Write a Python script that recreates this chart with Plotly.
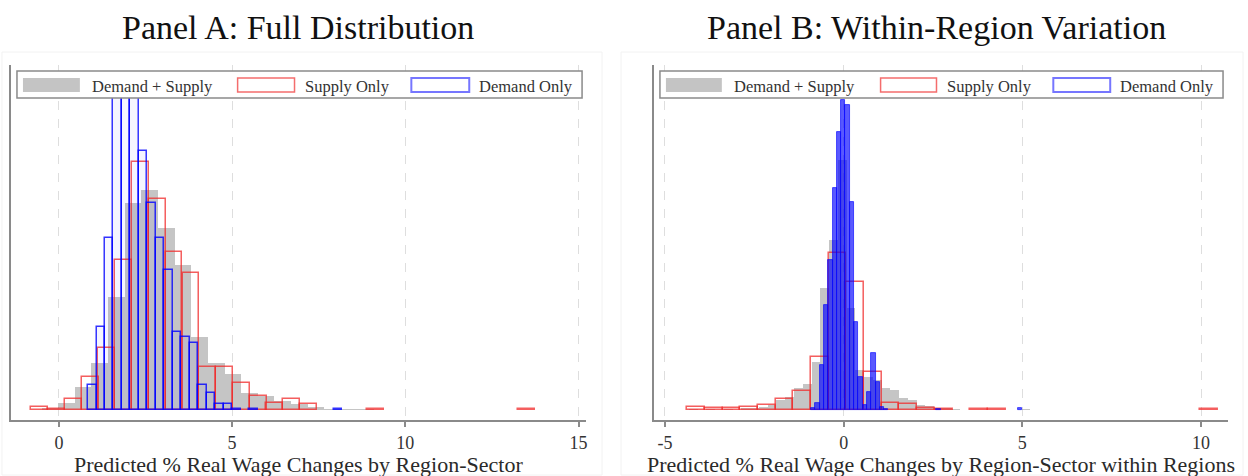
import numpy as np
import plotly.graph_objects as go

# ---------------- data (heights in plot units) ----------------
# Panel A: Full Distribution
A_gray_w = 0.48
A_gray_left = [-0.50, -0.02, 0.46, 0.94, 1.42, 1.90, 2.38, 2.86, 3.34, 3.82, 4.30, 4.78,
               5.26, 5.74, 6.22, 6.70, 7.18, 7.66, 8.14, 8.62]
A_gray_h = [2, 7, 23, 47, 113, 207, 220, 182, 145, 73, 47, 36, 17, 14, 9, 6, 3, 1.5, 1, 1]

A_red_w = 0.485
A_red_left = [-0.80, -0.31, 0.17, 0.66, 1.14, 1.63, 2.11, 2.60, 3.08, 3.57, 4.05, 4.54,
              5.02, 5.51, 5.99, 6.48, 6.96, 8.90, 13.26]
A_red_h = [3, 1, 11, 33, 62, 150, 248, 211, 158, 137, 43, 43, 27, 14, 7, 11, 6, 1, 1]

A_blue_w = 0.245
A_blue_left = [0.84, 1.085, 1.33, 1.575, 1.82, 2.065, 2.31, 2.555, 2.80, 3.045, 3.29, 3.535,
               3.78, 4.025, 4.27, 4.515, 4.76, 5.005, 5.495, 7.94]
A_blue_h = [25, 83, 172, 335, 336, 335, 259, 207, 172, 140, 78, 73, 67, 25, 17, 6, 6, 1.5, 1.5, 1]

# Panel B: Within-Region Variation
B_gray_w = 0.245
B_gray_left = [-4.33, -3.84, -3.35, -2.86, -2.615, -2.37, -2.125, -1.88, -1.635, -1.39, -1.145,
               -0.90, -0.655, -0.41, -0.165, 0.08, 0.325, 0.57, 0.815, 1.06, 1.305, 1.55, 1.795,
               2.04, 2.285, 2.53, 2.775, 3.02, 4.98]
B_gray_h = [1, 1, 1, 2, 2, 3, 5, 10, 13, 22, 26, 48, 122, 170, 250, 102, 40, 33, 30, 22, 20,
            12, 10, 5, 4, 2, 2, 1, 1]

B_red_w = 0.495
B_red_left = [-4.38, -3.885, -3.39, -2.895, -2.40, -1.905, -1.41, -0.915, -0.42, 0.075, 0.57,
              1.065, 1.56, 2.055, 2.55, 3.54, 4.035, 9.975]
B_red_h = [3, 2, 2, 3, 5, 11, 19, 53, 157, 128, 38, 7, 6, 2, 1, 1.5, 1.5, 1.5]

B_blue_w = 0.12
B_blue_left = [-0.91, -0.79, -0.67, -0.55, -0.43, -0.31, -0.19, -0.07, 0.05, 0.17, 0.29, 0.41,
               0.53, 0.65, 0.77, 0.89, 1.01, 1.13, 2.59, 4.87]
B_blue_h = [2, 7, 45, 105, 150, 222, 278, 310, 305, 208, 88, 33, 5, 18, 57, 28, 3, 1, 1, 2]

A_ticks = [0, 5, 10, 15]
B_ticks = [-5, 0, 5, 10]

titles = ["Panel A: Full Distribution", "Panel B: Within-Region Variation"]
xtitles = ["Predicted % Real Wage Changes by Region-Sector",
           "Predicted % Real Wage Changes by Region-Sector within Regions"]
legend_labels = ["Demand + Supply", "Supply Only", "Demand Only"]

# ---------------- styling ----------------
W, H = 1248, 476
SERIF = "Liberation Serif"
GRAY_FILL = "rgba(150,150,150,0.55)"
RED_LINE = "rgba(240,40,40,0.75)"
BLUE_LINE = "rgba(0,0,255,0.8)"


def px(x):
    return x / W


def py(y):
    return 1 - y / H


def centers(left, w):
    return np.asarray(left) + w / 2.0


fig = go.Figure()


def add_hist(left, w, h, xa, ya, fill, line, lw):
    fig.add_trace(go.Bar(x=centers(left, w), y=h, width=[w] * len(h),
                         marker=dict(color=fill, line=dict(color=line, width=lw)),
                         xaxis=xa, yaxis=ya, showlegend=False, hoverinfo="skip"))


add_hist(A_gray_left, A_gray_w, A_gray_h, "x", "y", GRAY_FILL, "rgba(0,0,0,0)", 0)
add_hist(A_red_left, A_red_w, A_red_h, "x", "y", "rgba(0,0,0,0)", RED_LINE, 1.5)
add_hist(A_blue_left, A_blue_w, A_blue_h, "x", "y", "rgba(0,0,255,0.04)", BLUE_LINE, 1.5)

add_hist(B_gray_left, B_gray_w, B_gray_h, "x2", "y2", GRAY_FILL, "rgba(0,0,0,0)", 0)
add_hist(B_red_left, B_red_w, B_red_h, "x2", "y2", "rgba(0,0,0,0)", RED_LINE, 1.5)
add_hist(B_blue_left, B_blue_w, B_blue_h, "x2", "y2", "rgba(0,0,255,0.65)", BLUE_LINE, 0.8)

ydom = [py(420), py(65)]
yrange = [-10, 345]

common_x = dict(showgrid=True, gridcolor="#dedede", griddash="dash", gridwidth=1,
                showline=True, linecolor="#8a8a8a", linewidth=2, ticks="outside",
                ticklen=5, tickcolor="#8a8a8a", tickwidth=1.5, zeroline=False,
                tickfont=dict(family=SERIF, size=18, color="#333333"),
                ticklabelstandoff=0, tickmode="array")
common_y = dict(range=yrange, domain=ydom, showgrid=False, zeroline=False,
                showline=True, linecolor="#8a8a8a", linewidth=2, showticklabels=False,
                ticks="")

fig.update_layout(
    width=W, height=H, margin=dict(l=0, r=0, t=0, b=0),
    paper_bgcolor="white", plot_bgcolor="white", barmode="overlay", bargap=0,
    xaxis=dict(domain=[px(11), px(587)], range=[-1.383, 15.216], anchor="y",
               tickvals=A_ticks, ticktext=[str(t) for t in A_ticks], **common_x),
    yaxis=dict(anchor="x", **common_y),
    xaxis2=dict(domain=[px(655), px(1230)], range=[-5.307, 10.754], anchor="y2",
                tickvals=B_ticks, ticktext=[str(t) for t in B_ticks], **common_x),
    yaxis2=dict(anchor="x2", **common_y),
)

shapes = []
annotations = []

# faint outer panel borders
for (x0, x1) in [(2, 603), (622, 1245)]:
    shapes.append(dict(type="rect", xref="paper", yref="paper", x0=px(x0), x1=px(x1),
                       y0=py(475), y1=py(52), line=dict(color="#f2f2f2", width=1),
                       fillcolor="rgba(0,0,0,0)", layer="below"))

# custom legends
legend_specs = [
    dict(box=(17, 583), sw=[(23, 80), (238, 295), (412, 470)], tx=[90, 303, 478]),
    dict(box=(661, 1225), sw=[(667, 723), (882, 938), (1055, 1112)], tx=[733, 947, 1120]),
]
for spec in legend_specs:
    bx0, bx1 = spec["box"]
    shapes.append(dict(type="rect", xref="paper", yref="paper", x0=px(bx0), x1=px(bx1),
                       y0=py(98), y1=py(71), line=dict(color="#8a8a8a", width=1.5),
                       fillcolor="white", layer="above"))
    (g0, g1), (r0, r1), (b0, b1) = spec["sw"]
    shapes.append(dict(type="rect", xref="paper", yref="paper", x0=px(g0), x1=px(g1),
                       y0=py(92), y1=py(78), line=dict(width=0),
                       fillcolor="#c4c4c4", layer="above"))
    shapes.append(dict(type="rect", xref="paper", yref="paper", x0=px(r0), x1=px(r1),
                       y0=py(92), y1=py(78), line=dict(color="rgba(240,60,60,0.75)", width=1.5),
                       fillcolor="white", layer="above"))
    shapes.append(dict(type="rect", xref="paper", yref="paper", x0=px(b0), x1=px(b1),
                       y0=py(92), y1=py(78), line=dict(color="rgba(60,60,255,0.7)", width=2),
                       fillcolor="white", layer="above"))
    for lab, tx in zip(legend_labels, spec["tx"]):
        annotations.append(dict(text=lab, x=px(tx), y=py(86), xref="paper", yref="paper",
                                xanchor="left", yanchor="middle", showarrow=False,
                                font=dict(family=SERIF, size=16.5, color="#333333")))

# panel titles
for t, cx in zip(titles, [298, 938]):
    annotations.append(dict(text=t, x=px(cx), y=py(27), xref="paper", yref="paper",
                            xanchor="center", yanchor="middle", showarrow=False,
                            font=dict(family=SERIF, size=34, color="#111111")))
# axis titles
for t, cx in zip(xtitles, [299, 943]):
    annotations.append(dict(text=t, x=px(cx), y=py(464), xref="paper", yref="paper",
                            xanchor="center", yanchor="middle", showarrow=False,
                            font=dict(family=SERIF, size=22, color="#2a2a2a")))

fig.update_layout(shapes=shapes, annotations=annotations)
fig.write_html("out.html")
